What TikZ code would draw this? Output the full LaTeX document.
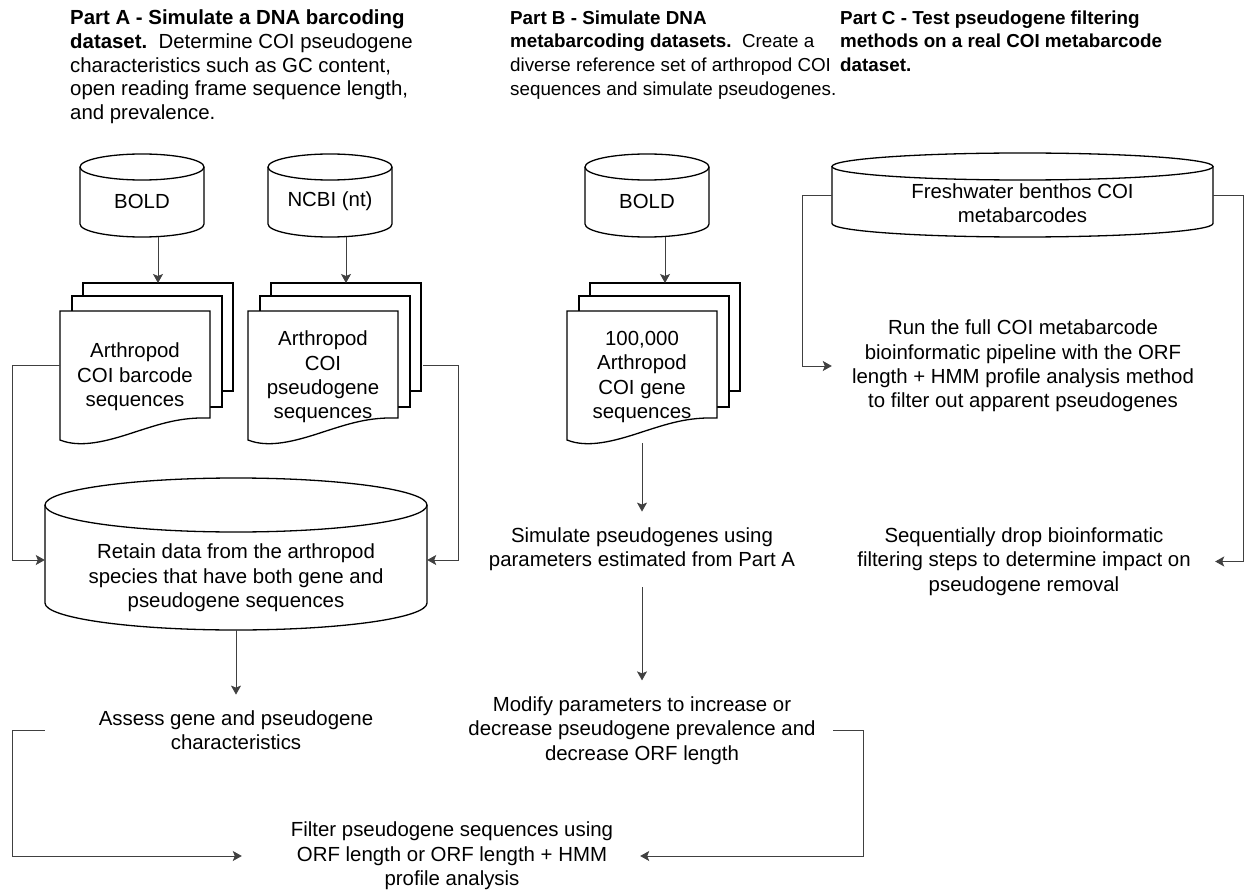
\documentclass[tikz,border=0pt]{standalone}
\usepackage{fontspec}
\setmainfont{Liberation Sans}
\usetikzlibrary{arrows.meta,calc}
\tikzset{
  shp/.style={draw=black, line width=1.3pt, fill=white},
  conn/.style={draw=black!75, line width=0.9pt},
  arr/.style={conn, -{Stealth[length=9pt,width=10pt,inset=2pt]}},
  txt/.style={font=\fontsize{20.4}{24.4}\selectfont, align=center, inner xsep=0pt, inner ysep=16pt},
  hdr/.style={font=\fontsize{20.4}{23.6}\selectfont, align=left, inner sep=0pt, anchor=north west},
  hdrs/.style={hdr, font=\fontsize{18.8}{23.6}\selectfont},
  box/.style={inner sep=0pt, draw=none},
}
% name cx cy w h ry
\newcommand\mycyl[6]{%
  \path[shp] ({#2-#4/2},{#3-#5/2+#6}) -- ({#2-#4/2},{#3+#5/2-#6})
     arc[start angle=180,end angle=0,x radius={#4/2},y radius=#6]
     -- ({#2+#4/2},{#3-#5/2+#6});
  \path[shp] (#2,{#3-#5/2+#6}) ellipse[x radius={#4/2},y radius=#6];
  \node[box, minimum width=#4, minimum height=#5] (#1) at (#2,#3) {};
}
% name left text
\newcommand\mydocs[3]{%
  \path[shp] ({#2+23},283) rectangle ({#2+173},391);
  \path[shp] ({#2+12},296) rectangle ({#2+162},407);
  \path[shp] (#2,311) -- ({#2+150},311) -- ({#2+150},418)
     .. controls ({#2+120},417) and ({#2+100},424) .. ({#2+75},432)
     .. controls ({#2+45},442) and ({#2+20},448) .. (#2,440) -- cycle;
  \node[box, txt, inner sep=0pt, minimum width=150, minimum height=132] (#1) at ({#2+75},377) {#3};
  \coordinate (#1-back) at ({#2+98},283);
}
\begin{document}
\begin{tikzpicture}[x=1pt,y=-1pt]
\useasboundingbox[fill=white] (0,0) rectangle (1244,893);

% headers
\node[hdr] (hA) at (70,10) {\textbf{Part A - Simulate a DNA barcoding}\\\textbf{dataset.}\ \ Determine COI pseudogene\\characteristics such as GC content,\\open reading frame sequence length,\\and prevalence.};
\node[hdrs] (hB) at (510,10.5) {\textbf{Part B - Simulate DNA}\\\textbf{metabarcoding datasets.}\ \ Create a\\diverse reference set of arthropod COI\\sequences and simulate pseudogenes.};
\node[hdrs] (hC) at (840,10.5) {\textbf{Part C - Test pseudogene filtering}\\\textbf{methods on a real COI metabarcode}\\\textbf{dataset.}};

% Part A
\mycyl{boldA}{142}{195.5}{124}{83}{13}
\node[txt, inner sep=0pt] (boldA-t) at (142,201) {BOLD};
\mycyl{ncbi}{330}{195.5}{124}{83}{13}
\node[txt, inner sep=0pt] (ncbi-t) at (330,201) {NCBI (nt)};

\mydocs{docA}{60}{Arthropod\\COI barcode\\sequences}
\mydocs{docN}{248}{Arthropod\\COI\\pseudogene\\sequences}

\draw[arr] (boldA.south -| docA-back) -- (docA-back);
\draw[arr] (ncbi.south -| docN-back) -- (docN-back);

\mycyl{retain}{236}{554}{382}{152}{27}
\node[txt, inner sep=0pt] (retain-t) at (236,578) {Retain data from the arthropod\\species that have both gene and\\pseudogene sequences};

\draw[arr] ([yshift=12pt]docA.west) -- ++(-47,0) |- ([yshift=-6pt]retain.west);
\draw[arr] ([xshift=25pt,yshift=12pt]docN.east) -- ++(35,0) |- ([yshift=-6pt]retain.east);

\node[txt, minimum width=382] (assess) at (236,730.5) {Assess gene and pseudogene\\characteristics};
\draw[arr] (retain.south) -- (assess.north);

% Part B
\mycyl{boldB}{647}{195.5}{124}{83}{13}
\node[txt, inner sep=0pt] (boldB-t) at (647,201) {BOLD};
\mydocs{docB}{567}{100,000\\Arthropod\\COI gene\\sequences}
\draw[arr] (boldB.south -| docB-back) -- (docB-back);

\node[txt, minimum width=382] (sim) at (642,549.5) {Simulate pseudogenes using\\parameters estimated from Part A};
\draw[arr] (docB.south) -- (sim.north);
\node[txt, minimum width=382] (modify) at (642,730.5) {Modify parameters to increase or\\decrease pseudogene prevalence and\\decrease ORF length};
\draw[arr] (sim.south) -- (modify.north);

\node[txt, minimum width=420] (filt) at (452,856) {Filter pseudogene sequences using\\ORF length or ORF length + HMM\\profile analysis};
\draw[arr] (assess.west) -- ++(-32,0) |- (filt.west);
\draw[arr] (modify.east) -- ++(30,0) |- ([xshift=-22pt]filt.east);

% Part C
\mycyl{fresh}{1022.5}{195}{381}{84}{13.5}
\node[txt, inner sep=0pt] (fresh-t) at (1022.5,203) {Freshwater benthos COI\\metabarcodes};
\node[txt, minimum width=382] (run) at (1023,366) {Run the full COI metabarcode\\bioinformatic pipeline with the ORF\\length + HMM profile analysis method\\to filter out apparent pseudogenes};
\draw[arr] (fresh.west) -- ++(-29,0) |- (run.west);
\node[txt, minimum width=382] (seq) at (1024,561.5) {Sequentially drop bioinformatic\\filtering steps to determine impact on\\pseudogene removal};
\draw[arr] (fresh.east) -- ++(30,0) |- (seq.east);
\end{tikzpicture}
\end{document}
